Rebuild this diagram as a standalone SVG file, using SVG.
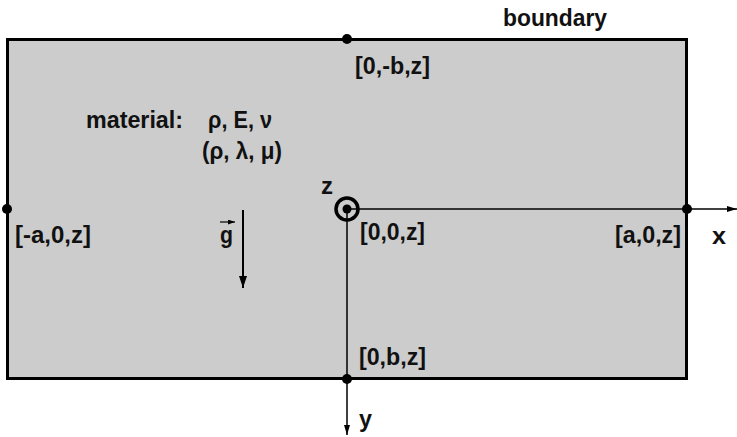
<svg xmlns="http://www.w3.org/2000/svg" width="737" height="437" viewBox="0 0 737 437">
<style>
text{font-family:"Liberation Sans",Arial,sans-serif;font-weight:bold;font-size:24px;fill:#111}
.ax{stroke:#000;stroke-width:1.5;fill:none}
.dot{fill:#000}
</style>
<defs>
<marker id="ah" viewBox="0 0 10 6" refX="10" refY="3" markerWidth="10" markerHeight="6" markerUnits="userSpaceOnUse" orient="auto"><path d="M0,0 L10,3 L0,6 Z" fill="#000"/></marker>
<marker id="ahg" viewBox="0 0 12 8" refX="12" refY="4" markerWidth="12" markerHeight="8" markerUnits="userSpaceOnUse" orient="auto"><path d="M0,0 L12,4 L0,8 Z" fill="#000"/></marker>
<marker id="ahv" viewBox="0 0 7 5" refX="7" refY="2.5" markerWidth="7" markerHeight="5" markerUnits="userSpaceOnUse" orient="auto"><path d="M0,0 L7,2.5 L0,5 Z" fill="#000"/></marker>
</defs>
<rect width="737" height="437" fill="#fff"/>
<g id="domain">
<rect x="7.5" y="39.5" width="679" height="339" fill="#cccccc" stroke="#000" stroke-width="3"/>
</g>
<g id="connectors">
<line class="ax" x1="347" y1="209" x2="737" y2="209" marker-end="url(#ah)"/>
<line class="ax" x1="347" y1="209" x2="347" y2="435" marker-end="url(#ah)"/>
<line x1="243" y1="210" x2="243" y2="288" stroke="#000" stroke-width="2" marker-end="url(#ahg)"/>
<line x1="220" y1="222" x2="235" y2="222" stroke="#000" stroke-width="1.2" marker-end="url(#ahv)"/>
</g>
<g id="points">
<circle class="dot" cx="347" cy="39" r="5"/>
<circle class="dot" cx="7" cy="209" r="5"/>
<circle class="dot" cx="687" cy="209" r="5"/>
<circle class="dot" cx="347" cy="379" r="5"/>
<circle cx="347" cy="209" r="11" fill="none" stroke="#000" stroke-width="3.5"/>
<circle class="dot" cx="347" cy="209" r="4.5"/>
</g>
<g id="labels">
<text x="503" y="26" textLength="104" lengthAdjust="spacingAndGlyphs">boundary</text>
<text x="355" y="74" textLength="75" lengthAdjust="spacingAndGlyphs">[0,-b,z]</text>
<text x="86" y="128" textLength="97" lengthAdjust="spacingAndGlyphs">material:</text>
<text x="208" y="128" textLength="64" lengthAdjust="spacingAndGlyphs">ρ, E, ν</text>
<text x="202" y="159" textLength="80" lengthAdjust="spacingAndGlyphs">(ρ, λ, μ)</text>
<text x="321" y="194" textLength="12" lengthAdjust="spacingAndGlyphs">z</text>
<text x="360" y="240" textLength="65" lengthAdjust="spacingAndGlyphs">[0,0,z]</text>
<text x="15" y="243" textLength="76" lengthAdjust="spacingAndGlyphs">[-a,0,z]</text>
<text x="615" y="243" textLength="66" lengthAdjust="spacingAndGlyphs">[a,0,z]</text>
<text x="712" y="244" textLength="14" lengthAdjust="spacingAndGlyphs">x</text>
<text x="220" y="243" textLength="13" lengthAdjust="spacingAndGlyphs">g</text>
<text x="359" y="365" textLength="67" lengthAdjust="spacingAndGlyphs">[0,b,z]</text>
<text x="359" y="427" textLength="13" lengthAdjust="spacingAndGlyphs">y</text>
</g>
</svg>
